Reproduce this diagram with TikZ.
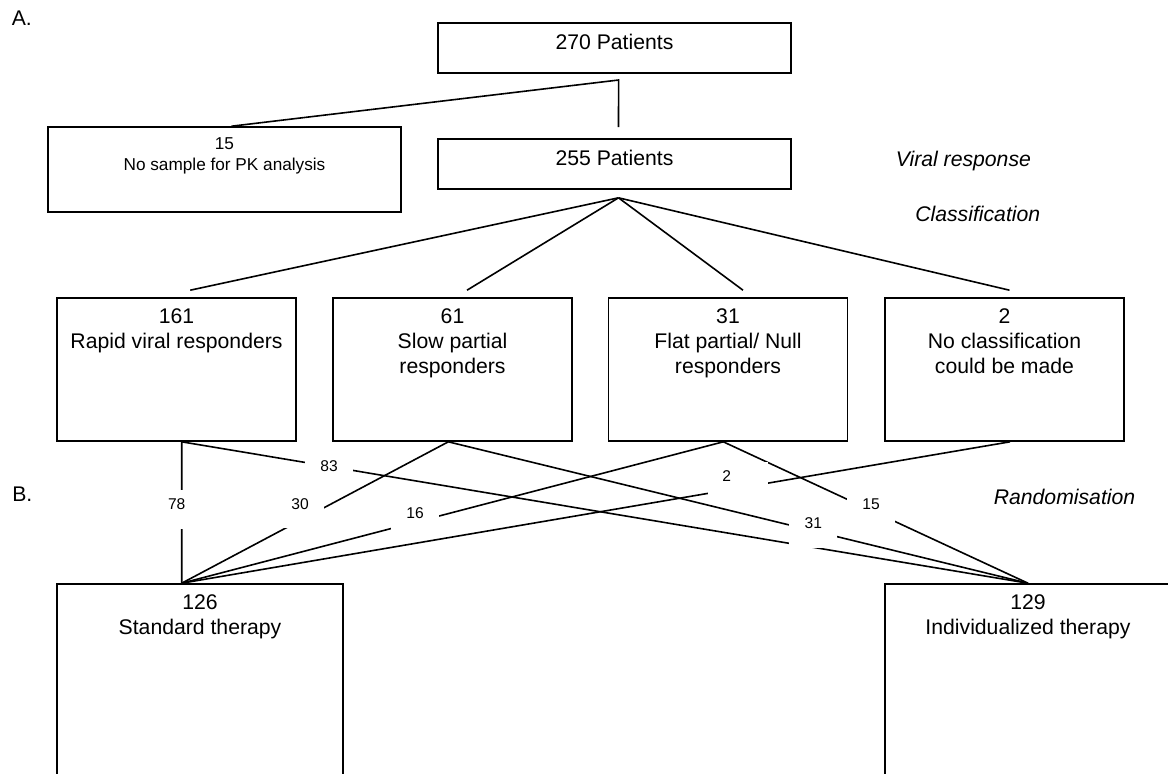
\documentclass[tikz,border=0pt]{standalone}
\usepackage{fontspec}
\setmainfont{Liberation Sans}
\usetikzlibrary{calc}

\begin{document}
\begin{tikzpicture}[x=0.5pt,y=-0.5pt,line width=0.8pt]
\tikzset{
% boxes of the chart, their text hangs from the top edge
flow box/.style={draw,inner sep=0,minimum width=#1},
box text/.style={anchor=north,yshift=-5.5pt,inner sep=0,align=center,font=\fontsize{10.6}{12.5}\selectfont},
small text/.style={box text,font=\fontsize{8.6}{10.35}\selectfont},
% numbers on the connectors, white so that they cut the lines
count/.style={fill=white,inner sep=0,minimum width=24pt,text height=9.9pt,text depth=9.6pt,font=\fontsize{7.8}{9}\selectfont},
side/.style={anchor=base west,inner sep=0,font=\fontsize{10.6}{12.5}\selectfont\itshape},
part/.style={side,font=\fontsize{10.6}{12.5}\selectfont}
}
\useasboundingbox (0,0) rectangle (1168,773);

% Part A
\node[part] (partA) at (11,25.2) {A.};
\node[flow box=176.5pt,minimum height=25pt,label={[box text]north:270 Patients}] (pat270) at (614.5,48) {};
\node[flow box=176.5pt,minimum height=42.5pt,label={[small text]north:{15\\No sample for PK analysis}}] (nosample) at (224.5,169.5) {};
\node[flow box=176.5pt,minimum height=25pt,label={[box text]north:255 Patients}] (pat255) at (614.5,164) {};
\node[side] (viral) at (895,166) {Viral response};
\node[side] (classif) at (914.5,221) {Classification};

% the four classes
\node[flow box=119.5pt,minimum height=71.5pt,label={[box text]north:{161\\Rapid viral responders}}] (rapid) at (176.5,369.5) {};
\node[flow box=119.5pt,minimum height=71.5pt,label={[box text]north:{61\\Slow partial\\responders}}] (slow) at (452.5,369.5) {};
\node[flow box=119.5pt,minimum height=71.5pt,label={[box text]north:{31\\Flat partial/ Null\\responders}}] (flat) at (728,369.5) {};
\node[flow box=119.5pt,minimum height=71.5pt,label={[box text]north:{2\\No classification\\could be made}}] (noclass) at (1004.5,369.5) {};

% Part B
\node[part] (partB) at (11.5,501) {B.};
\node[side] (random) at (993,504.4) {Randomisation};
\node[flow box=143pt,minimum height=108pt,label={[box text]north:{126\\Standard therapy}}] (standard) at (200,692) {};
\node[flow box=143pt,minimum height=108pt,label={[box text]north:{129\\Individualized therapy}}] (individ) at (1028,692) {};

% split of the 270 patients
\coordinate (split) at (618.6,80);
\draw ([xshift=3.5pt]nosample.north) -- (split) -- ($(pat255.north)+(4,-11)$);

% classification
\coordinate (fork) at ($(pat255.south)+(4,8)$);
\draw (fork) -- ($(rapid.north)+(13.7,-7)$);
\draw (fork) -- ($(slow.north)+(14.5,-7)$);
\draw (fork) -- ($(flat.north)+(15,-7)$);
\draw (fork) -- ($(noclass.north)+(5,-7)$);

% randomisation
\coordinate (rapid out) at ($(rapid.south)+(5.2,0)$);
\coordinate (slow out) at ($(slow.south)+(-4.2,0)$);
\coordinate (flat out) at ($(flat.south)+(-4.7,0)$);
\coordinate (noclass out) at ($(noclass.south)+(5.5,0)$);
\coordinate (std in) at ($(standard.north)+(-18.3,0)$);
\draw (rapid out) -- (std in);
\draw (rapid out) -- (individ.north);
\draw (slow out) -- (std in);
\draw (slow out) -- (individ.north);
\draw (flat out) -- (std in);
\draw (flat out) -- (individ.north);
\draw (noclass out) -- (std in);

% numbers of patients per arm
\node[count] (c78) at (176.7,509.5) {78};
\node[count] (c83) at (329,471.2) {83};
\node[count] (c30) at (300,508.8) {30};
\node[count] (c16) at (415,517.8) {16};
\node[count,minimum width=30pt] (c2) at (738,481.2) {2\kern11.3pt};
\node[count] (c15) at (871,508.8) {15};
\node[count] (c31) at (813.3,528.2) {31};
\end{tikzpicture}
\end{document}
